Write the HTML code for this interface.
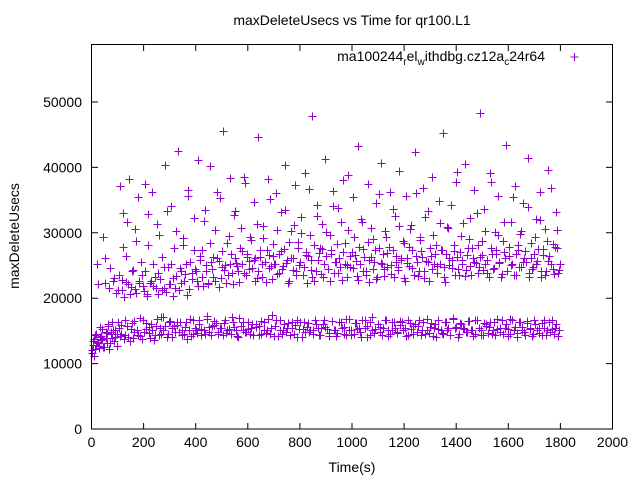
<!DOCTYPE html>
<html><head><meta charset="utf-8"><style>
body{margin:0;background:#fff}
svg{display:block;font-family:"Liberation Sans",sans-serif}
</style></head><body>
<svg id="chart" width="640" height="480" viewBox="0 0 640 480" xmlns="http://www.w3.org/2000/svg">
<rect width="640" height="480" fill="#fff"/>
<text x="352" y="25" font-size="14" text-anchor="middle">maxDeleteUsecs vs Time for qr100.L1</text>
<g id="ticks"></g>
<g id="points"></g>
<rect x="91.5" y="44.5" width="521" height="384.5" fill="none" stroke="#000" stroke-width="1"/>
<text transform="translate(19,236) rotate(-90)" font-size="14" text-anchor="middle">maxDeleteUsecs</text>
<text x="352" y="472" font-size="14" text-anchor="middle">Time(s)</text>
<g>
<text x="545" y="61" font-size="14" text-anchor="end">ma100244<tspan font-size="10" dy="4">r</tspan><tspan dy="-4">el</tspan><tspan font-size="10" dy="4">w</tspan><tspan dy="-4">ithdbg.cz12a</tspan><tspan font-size="10" dy="4">c</tspan><tspan dy="-4">24r64</tspan></text>
<path d="M570.5 57h8M574.5 53v8" stroke="#9400d3" stroke-width="1"/>
</g>
</svg>
<script>
const xTicks=[0,200,400,600,800,1000,1200,1400,1600,1800,2000];
const yTicks=[0,10000,20000,30000,40000,50000];
const timeStep=4;
const valuesK=[
12.1,13.4,11.2,14.3,12.8,25.2,13.1,12.4,15.6,14.2,13.7,29.3,12.6,22.4,14.8,13.2,16.1,12.3,24.6,14.5,13.9,15.2,23.1,14.1,12.7,
21.3,15.4,37.2,14.6,22.8,33.1,20.2,14.3,26.4,15.8,22.1,38.3,13.5,21.7,16.2,24.3,14.9,30.6,20.8,15.1,35.4,22.6,14.2,23.5,16.6,
21.1,37.5,15.3,20.4,28.2,14.7,22.3,16.1,36.3,21.8,13.6,23.2,15.7,31.4,20.6,14.4,22.9,17.1,26.3,15.2,21.5,40.4,14.1,24.7,16.3,
22.2,34.1,15.5,20.3,27.6,14.8,23.4,15.9,42.5,21.2,16.4,24.1,14.3,29.2,22.7,15.6,25.3,13.8,36.6,21.4,16.8,23.9,14.5,32.2,24.5,
15.2,22.6,41.1,16.7,25.8,14.4,27.3,21.9,15.1,33.5,24.2,17.3,22.4,14.9,40.2,25.6,15.8,23.3,16.5,30.4,26.1,14.6,21.7,35.3,15.4,
24.8,45.6,16.2,25.1,14.7,28.5,23.6,15.3,38.4,26.7,17.2,22.2,15.6,33.3,25.4,14.2,24.1,16.9,30.7,27.2,15.1,23.8,37.6,14.8,26.3,
16.4,25.7,29.4,15.5,24.6,14.3,34.7,26.2,16.1,23.1,44.6,15.8,27.4,14.6,25.2,31.1,16.3,22.5,15.2,38.2,26.6,14.5,24.9,17.4,28.3,
25.3,15.7,36.1,23.7,14.2,26.8,16.6,33.2,24.4,15.1,27.5,40.3,14.8,25.9,16.2,22.7,30.2,15.4,26.1,14.5,37.3,24.2,16.7,28.6,15.3,
25.5,32.4,14.1,23.6,16.4,39.2,27.1,15.6,26.5,14.9,29.7,24.3,47.8,15.2,22.6,16.1,34.2,25.8,14.4,27.7,15.5,31.3,23.2,16.6,41.3,
26.4,15.3,24.5,14.2,29.6,27.3,16.5,36.4,23.9,15.1,25.6,14.7,33.8,26.2,16.3,22.8,38.1,15.6,28.4,14.3,25.1,30.5,16.8,24.7,15.2,
27.1,35.5,14.6,26.6,16.2,23.4,43.2,15.4,25.3,14.1,31.6,27.5,16.7,24.2,15.8,37.4,22.5,14.4,26.3,17.2,29.1,25.6,15.3,34.5,23.3,
16.1,27.6,14.8,40.6,25.2,15.5,24.4,30.3,16.6,26.9,14.2,36.2,23.7,15.2,27.3,16.4,32.6,25.5,14.7,24.8,39.4,15.9,26.2,16.3,28.8,
23.1,15.4,35.7,25.4,14.3,27.8,16.2,31.2,24.6,15.7,42.3,26.5,14.9,23.4,16.6,29.3,27.2,15.1,36.8,24.1,14.5,25.7,16.8,33.4,22.6,
15.6,26.4,38.5,14.2,25.3,16.1,28.2,24.9,15.3,31.5,27.4,14.7,45.2,23.2,16.4,26.7,15.2,30.8,25.1,14.4,34.3,24.6,16.9,27.2,15.5,
37.7,26.3,14.1,23.6,16.2,29.5,25.8,15.4,40.5,24.3,14.8,27.6,16.5,32.3,23.5,15.1,26.2,36.5,14.6,25.4,16.7,28.1,24.7,48.3,15.2,
26.6,14.3,33.6,25.2,16.1,23.8,15.6,39.1,27.7,14.5,24.4,16.3,30.1,26.8,15.3,35.6,25.6,14.9,23.3,16.6,28.7,27.1,15.5,43.4,24.2,
14.2,26.5,16.8,31.7,25.3,15.1,37.2,23.6,14.7,27.3,16.4,29.8,24.8,15.6,34.6,26.2,14.4,25.5,16.2,41.4,23.9,15.3,28.5,24.5,14.6,
26.7,16.1,32.1,25.7,15.4,36.3,23.2,14.3,27.5,16.6,30.6,24.1,15.2,39.6,26.4,14.8,25.2,16.7,28.3,23.7,15.5,33.2,27.6,14.2,24.3
];
const timeOffset=2;
const valuesK2=[
11.6,12.9,13.8,12.2,14.6,13.3,22.1,12.7,14.1,13.6,15.3,12.5,26.2,13.9,14.7,15.8,21.6,13.2,14.9,16.3,22.7,13.4,15.1,20.8,14.6,
16.4,23.6,14.2,15.9,21.2,27.8,13.8,16.7,22.5,31.6,14.1,20.6,15.3,24.2,13.9,16.5,21.4,28.7,15.2,14.4,22.3,16.9,25.6,13.7,21.8,
14.8,24.1,16.2,20.7,32.8,15.6,13.9,22.6,15.1,25.2,14.3,21.6,16.8,23.9,29.6,15.4,14.6,21.3,17.2,24.7,15.8,20.9,33.4,14.5,22.2,
16.5,25.3,14.1,23.1,15.7,21.5,30.3,16.3,14.8,24.6,22.4,15.2,28.1,14.6,23.7,16.4,20.5,35.7,15.1,25.5,14.2,22.9,16.6,27.3,15.5,
24.2,14.7,21.8,16.1,26.5,15.3,23.3,31.8,14.5,25.1,16.8,22.1,15.6,28.4,14.3,24.4,26.3,15.9,22.7,16.2,36.2,14.9,25.7,15.4,23.1,
27.2,14.4,24.3,16.7,22.3,15.1,29.5,25.2,14.6,23.8,16.4,32.7,26.1,15.2,24.9,14.1,22.5,27.6,15.7,25.3,16.3,38.6,14.8,23.6,26.7,
15.3,24.5,14.5,28.9,16.1,25.9,22.7,15.6,31.4,24.1,14.3,26.3,16.5,23.2,29.2,15.1,25.6,14.7,27.4,16.8,24.6,35.1,15.4,22.9,26.5,
14.2,25.3,16.6,30.4,23.8,15.2,27.2,14.6,24.9,16.1,33.5,25.4,15.5,22.3,28.6,14.4,26.2,16.3,24.3,31.2,15.9,23.5,14.1,27.7,25.1,
16.4,29.9,15.3,24.7,14.8,26.6,22.4,16.2,36.7,15.1,25.8,23.3,14.5,28.2,16.7,24.2,32.6,15.4,26.9,14.3,23.7,27.5,16.1,25.3,15.6,
30.1,24.4,14.7,22.6,26.8,16.5,34.1,15.2,25.5,14.2,28.3,23.9,16.3,24.8,31.6,15.5,27.1,14.6,25.2,16.8,23.3,38.8,15.1,26.4,14.4,
24.6,29.3,16.2,25.7,15.3,22.8,27.9,14.9,32.1,16.6,24.1,26.3,15.4,23.6,14.1,28.6,25.8,16.4,30.7,15.2,24.5,14.7,27.3,22.9,16.1,
35.9,15.6,25.4,14.3,26.7,23.4,16.7,29.4,24.8,15.1,27.8,14.5,25.1,16.3,33.7,23.2,15.4,26.5,14.8,24.3,31.1,16.5,25.9,15.2,28.4,
22.7,14.2,26.1,16.6,24.9,30.6,15.3,27.4,14.6,23.5,16.1,36.1,25.6,15.7,24.2,28.9,14.4,26.3,16.4,23.1,32.4,15.2,25.5,14.7,27.6,
16.2,24.4,29.7,15.5,26.8,14.1,23.9,16.7,34.8,25.3,15.1,27.3,14.6,24.7,22.5,16.3,30.9,15.4,26.2,14.3,25.8,16.8,28.2,23.6,15.6,
39.3,24.5,14.5,27.1,16.1,25.2,31.5,15.3,23.4,14.8,26.6,16.5,29.1,24.9,15.2,27.7,14.2,25.6,16.6,33.1,23.8,15.5,26.3,14.4,28.8,
24.3,16.2,30.3,15.7,25.9,14.7,23.2,16.4,37.8,26.7,15.1,24.6,14.3,27.4,16.8,29.6,25.4,15.4,23.7,14.6,31.7,26.2,16.1,24.2,15.3,
27.9,14.5,25.1,16.7,35.4,23.5,15.6,26.8,14.1,28.1,24.7,16.3,30.2,15.2,25.6,14.8,27.2,16.5,33.9,23.3,15.4,26.1,14.2,24.8,16.6,
29.4,25.3,15.1,27.5,14.7,31.9,24.1,16.2,26.6,15.5,23.6,14.4,28.7,25.7,16.4,36.9,15.3,24.4,14.6,27.8,16.1,30.5,23.9,15.2,25.2
];
const X0=91.5,X1=612.5,Y0=429,YPer=327/50000;
function xs(t){return X0+(t/2000)*(X1-X0);}
function ys(v){return Y0-v*YPer;}
const NS="http://www.w3.org/2000/svg";
const tg=document.getElementById('ticks');
let d="";
xTicks.forEach((t,i)=>{
 const x=xs(t);
 if(i>0&&i<xTicks.length-1)d+=`M${x} 429v-6M${x} 45v6`;
 const tx=document.createElementNS(NS,'text');
 tx.setAttribute('x',x);tx.setAttribute('y',447);tx.setAttribute('font-size','14');tx.setAttribute('text-anchor','middle');
 tx.textContent=t;
 
 
 tg.appendChild(tx);
});
yTicks.forEach((v,i)=>{
 const y=ys(v);
 if(i>0)d+=`M92 ${y}h6M612 ${y}h-6`;
 const tx=document.createElementNS(NS,'text');
 tx.setAttribute('x',82);tx.setAttribute('y',y+5);tx.setAttribute('font-size','14');tx.setAttribute('text-anchor','end');
 tx.textContent=v;
 
 
 tg.appendChild(tx);
});
const tp=document.createElementNS(NS,'path');
tp.setAttribute('d',d);tp.setAttribute('stroke','#000');tp.setAttribute('fill','none');


tg.appendChild(tp);
const pg=document.getElementById('points');
let pd="";
function plus(t,v){
 const x=Math.round(xs(t))+0.5, y=Math.round(ys(v*1000))+0.5;
 pd+=`M${x-4} ${y}h8M${x} ${y-4}v8`;
}
valuesK.forEach((v,i)=>plus(i*timeStep,v));
valuesK2.forEach((v,i)=>plus(i*timeStep+timeOffset,v));
const pp=document.createElementNS(NS,'path');
pp.setAttribute('d',pd);pp.setAttribute('stroke','#9400d3');pp.setAttribute('fill','none');


pg.appendChild(pp);
</script>
</body></html>
